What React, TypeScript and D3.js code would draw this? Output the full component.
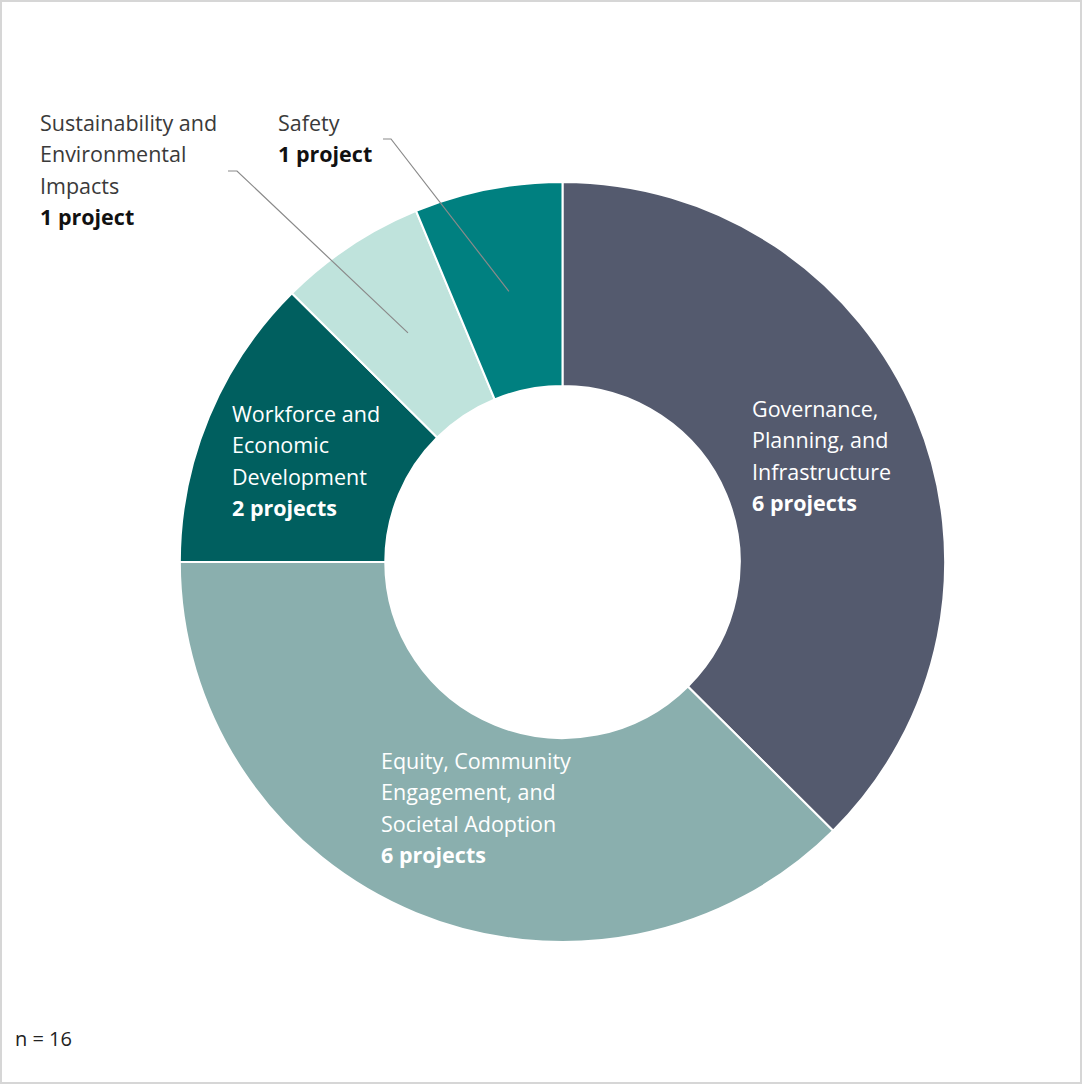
import React from "react";
import * as d3 from "d3";

const categories = [
  "Governance, Planning, and Infrastructure",
  "Equity, Community Engagement, and Societal Adoption",
  "Workforce and Economic Development",
  "Sustainability and Environmental Impacts",
  "Safety",
];
const values = [6, 6, 2, 1, 1];
const colors = ["#545a6e", "#8aafae", "#005f5f", "#bfe3dc", "#008080"];
const labelLines = [
  ["Governance,", "Planning, and", "Infrastructure"],
  ["Equity, Community", "Engagement, and", "Societal Adoption"],
  ["Workforce and", "Economic", "Development"],
  ["Sustainability and", "Environmental", "Impacts"],
  ["Safety"],
];
const countLabels = ["6 projects", "6 projects", "2 projects", "1 project", "1 project"];
const total = 16;

const W = 1082;
const H = 1084;
const cx = 562.5;
const cy = 562;
const outerR = 380;
const innerR = 176;
const sx = 1.007;

// label anchors (left x, first baseline y) and text colour
const labelPos: [number, number, string][] = [
  [752, 417, "#ffffff"],
  [381, 769, "#ffffff"],
  [232, 422, "#ffffff"],
  [40, 131, "#3a3a3a"],
  [278, 131, "#3a3a3a"],
];
const lineH = 31.3;

export default function App() {
  const pie = d3.pie<number>().sort(null).value((d) => d);
  const arcs = pie(values);
  const arc = d3.arc<d3.PieArcDatum<number>>().innerRadius(innerR).outerRadius(outerR);

  const leaders = [3, 4].map((i) => {
    const c = arc.centroid(arcs[i]);
    const start = i === 3 ? [228, 171] : [383, 139];
    const elbow = i === 3 ? [237, 171] : [391, 139];
    return { i, pts: [start, elbow, [cx + c[0] * sx + 1, cy + c[1] + 2]] };
  });

  const font = "'Open Sans', Lato, sans-serif";

  return (
    <svg
      width={W}
      height={H}
      style={{ position: "absolute", left: 0, top: 0, background: "#fff" }}
    >
      <rect x={1} y={1} width={W - 2} height={H - 2} fill="#fff" stroke="#d6d6d6" strokeWidth={2} />
      <g transform={`translate(${cx},${cy}) scale(${sx},1)`}>
        {arcs.map((a, i) => (
          <path key={categories[i]} d={arc(a) || ""} fill={colors[i]} stroke="#fff" strokeWidth={2} />
        ))}
      </g>
      {leaders.map((l) => (
        <polyline
          key={l.i}
          points={l.pts.map((p) => p.join(",")).join(" ")}
          fill="none"
          stroke="#8a8a8a"
          strokeWidth={1.2}
        />
      ))}
      {labelLines.map((lines, i) => {
        const [x, y, col] = labelPos[i];
        return (
          <text key={i} x={x} y={y} fill={col} fontFamily={font} fontSize={21.5}>
            {lines.map((ln, j) => (
              <tspan key={j} x={x} y={y + j * lineH}>
                {ln}
              </tspan>
            ))}
            <tspan x={x} y={y + lines.length * lineH} fontWeight={700} fill={col === "#ffffff" ? "#ffffff" : "#111"}>
              {countLabels[i]}
            </tspan>
          </text>
        );
      })}
      <text x={15} y={1046} fontFamily={font} fontSize={20} fill="#222">
        {`n = ${total}`}
      </text>
    </svg>
  );
}
